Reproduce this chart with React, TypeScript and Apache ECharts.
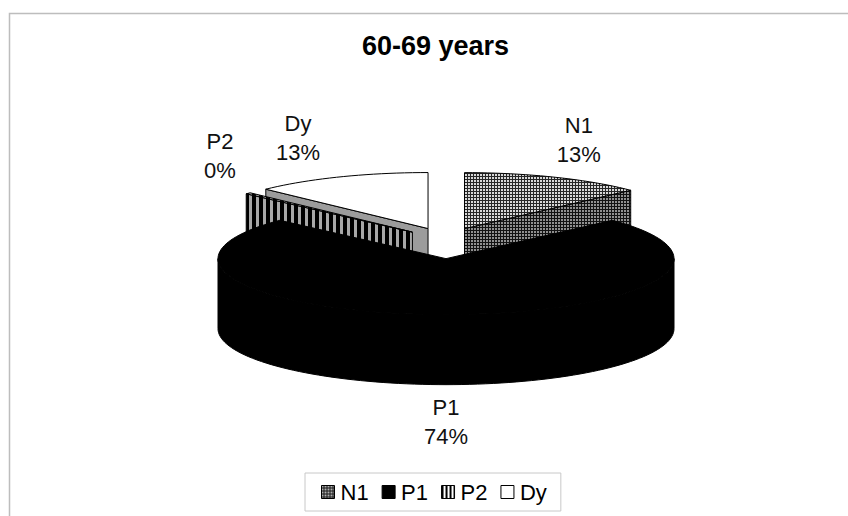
import React, { useEffect, useRef } from 'react';
import * as echarts from 'echarts';

const TITLE = '60-69 years';
const CATEGORIES = ['N1', 'P1', 'P2', 'Dy'];
const VALUES = [13.0, 74.0, 0.4, 12.6];

// layout constants (not data)
const GEOM = { cx: 446, cy: 243, rx: 228, ry: 56, h: 70, explode: 46.6, explodeK: 0.336 };
const LABEL_NUDGE = [[0, -2], [0, -1], [15, -11], [-19, -4]];
const FONT = 'Arial, "Liberation Sans", Helvetica, sans-serif';

function makePattern(w: number, h: number, draw: (ctx: CanvasRenderingContext2D) => void) {
  const c = document.createElement('canvas');
  c.width = w;
  c.height = h;
  const ctx = c.getContext('2d')!;
  draw(ctx);
  return { image: c.toDataURL(), repeat: 'repeat', imageWidth: w, imageHeight: h } as any;
}

function dotPattern(bg: string, fg: string) {
  return makePattern(3, 3, (ctx) => {
    ctx.fillStyle = bg;
    ctx.fillRect(0, 0, 3, 3);
    ctx.fillStyle = fg;
    ctx.fillRect(0, 0, 2, 2);
  });
}

function stripePattern(dark: string, light: string, dw: number, lw: number) {
  return makePattern(dw + lw, 2, (ctx) => {
    ctx.fillStyle = light;
    ctx.fillRect(0, 0, dw + lw, 2);
    ctx.fillStyle = dark;
    ctx.fillRect(0, 0, dw, 2);
  });
}

const rad = (d: number) => (d * Math.PI) / 180;

export default function App() {
  const ref = useRef<HTMLDivElement>(null);
  useEffect(() => {
    if (!ref.current) return;
    const chart = echarts.init(ref.current, undefined, { renderer: 'svg' });

    const styles: Record<string, any> = {
      N1: { top: dotPattern('#262626', '#d8d8d8'), side: dotPattern('#121212', '#909090'), stroke: '#000' },
      P1: { top: '#000', side: '#000', stroke: '#000' },
      P2: { top: stripePattern('#000', '#a8a8a8', 4, 3), side: stripePattern('#000', '#a8a8a8', 4, 3), stroke: '#000' },
      Dy: { top: '#fff', side: '#9c9c9c', stroke: '#000' },
    };
    const legendIcons: Record<string, any> = {
      N1: dotPattern('#1a1a1a', '#b0b0b0'),
      P1: '#000',
      P2: stripePattern('#000', '#fff', 2, 2),
      Dy: '#fff',
    };

    const total = VALUES.reduce((a, b) => a + b, 0);
    const starts: number[] = [];
    let acc = 0;
    VALUES.forEach((v) => {
      starts.push((acc / total) * 360);
      acc += v;
    });
    const centerOf = (i: number) => {
      const s = starts[i];
      const e = s + (VALUES[i] / total) * 360;
      const m = (s + e) / 2;
      return {
        x: GEOM.cx + GEOM.explode * Math.sin(rad(m)),
        y: GEOM.cy - GEOM.explode * Math.cos(rad(m)) * GEOM.explodeK,
      };
    };
    const order = CATEGORIES.map((_, i) => i).sort((a, b) => centerOf(a).y - centerOf(b).y);
    const rankOf = (i: number) => order.indexOf(i);

    const makeRender = (i: number) => (params: any, api: any) => {
      const name = CATEGORIES[i];
      const st = styles[name];
      const v = api.value(0);
      const s = starts[i];
      const e = s + (v / total) * 360;
      const m = (s + e) / 2;
      const { rx, ry, h } = GEOM;
      const cx = GEOM.cx + GEOM.explode * Math.sin(rad(m));
      const cy = GEOM.cy - GEOM.explode * Math.cos(rad(m)) * GEOM.explodeK;
      const pt = (t: number, dy = 0) => [cx + rx * Math.sin(rad(t)), cy - ry * Math.cos(rad(t)) + dy];
      const arc = (t0: number, t1: number, dy = 0) => {
        const n = Math.max(2, Math.ceil(Math.abs(t1 - t0) / 2));
        const pts: number[][] = [];
        for (let k = 0; k <= n; k++) pts.push(pt(t0 + ((t1 - t0) * k) / n, dy));
        return pts;
      };
      const base = rankOf(i) * 10;
      const children: any[] = [];
      const lineStyle = { stroke: st.stroke, lineWidth: 1, lineJoin: 'round' };
      if (Math.sin(rad(s)) < -1e-6) {
        children.push({
          type: 'polygon', z2: base + 1,
          shape: { points: [[cx, cy], pt(s), pt(s, h), [cx, cy + h]] },
          style: { fill: st.side, ...lineStyle },
        });
      }
      if (Math.sin(rad(e)) > 1e-6) {
        children.push({
          type: 'polygon', z2: base + 1,
          shape: { points: [[cx, cy], pt(e), pt(e, h), [cx, cy + h]] },
          style: { fill: st.side, ...lineStyle },
        });
      }
      const fs = Math.max(s, 90);
      const fe = Math.min(e, 270);
      if (fe > fs) {
        children.push({
          type: 'polygon', z2: base + 2,
          shape: { points: [...arc(fs, fe, 0), ...arc(fe, fs, h)] },
          style: { fill: st.side, ...lineStyle },
        });
      }
      children.push({
        type: 'polygon', z2: base + 3,
        shape: { points: [[cx, cy], ...arc(s, e, 0)] },
        style: { fill: st.top, ...lineStyle },
      });
      // data label
      const front = Math.cos(rad(m)) < 0;
      const edge = pt(m, front ? h : 0);
      const lx = edge[0] + Math.sin(rad(m)) * 60 + LABEL_NUDGE[i][0];
      const ly = edge[1] - Math.cos(rad(m)) * 38 + LABEL_NUDGE[i][1];
      children.push({
        type: 'text', z2: 200,
        style: {
          text: `${name}\n${Math.round((v / total) * 100)}%`,
          x: lx, y: ly, align: 'center', verticalAlign: 'middle',
          fontSize: 22, lineHeight: 29, fontFamily: FONT, fill: '#111',
        },
      });
      return { type: 'group', children };
    };

    chart.setOption({
      animation: false,
      backgroundColor: '#fff',
      title: {
        text: TITLE, left: 362, top: 32, padding: 0,
        textStyle: { fontSize: 27, fontWeight: 'bold', color: '#000', fontFamily: FONT },
      },
      graphic: [
        {
          type: 'rect', left: 7, top: 11, z: -1, silent: true,
          shape: { width: 880, height: 540 },
          style: { fill: 'none', stroke: '#bdbdbd', lineWidth: 1.5 },
        },
      ],
      legend: {
        left: 305, top: 473,
        padding: [8, 14, 8, 16],
        borderColor: '#c8c8c8', borderWidth: 1,
        itemWidth: 13, itemHeight: 13, itemGap: 13,
        icon: 'rect',
        textStyle: { fontSize: 22, color: '#000', fontFamily: FONT, padding: [0, 0, 0, 1] },
        data: CATEGORIES.map((c) => ({
          name: c,
          icon: 'rect',
          itemStyle: { color: legendIcons[c], borderColor: '#000', borderWidth: 1 },
        })),
      },
      series: CATEGORIES.map((c, i) => ({
        type: 'custom',
        name: c,
        coordinateSystem: 'none',
        silent: true,
        itemStyle: { color: typeof legendIcons[c] === 'string' ? legendIcons[c] : '#444' },
        data: [[VALUES[i]]],
        renderItem: makeRender(i),
      })),
    });
    return () => chart.dispose();
  }, []);
  return <div ref={ref} style={{ position: 'fixed', left: 0, top: 0, width: 848, height: 516 }} />;
}
